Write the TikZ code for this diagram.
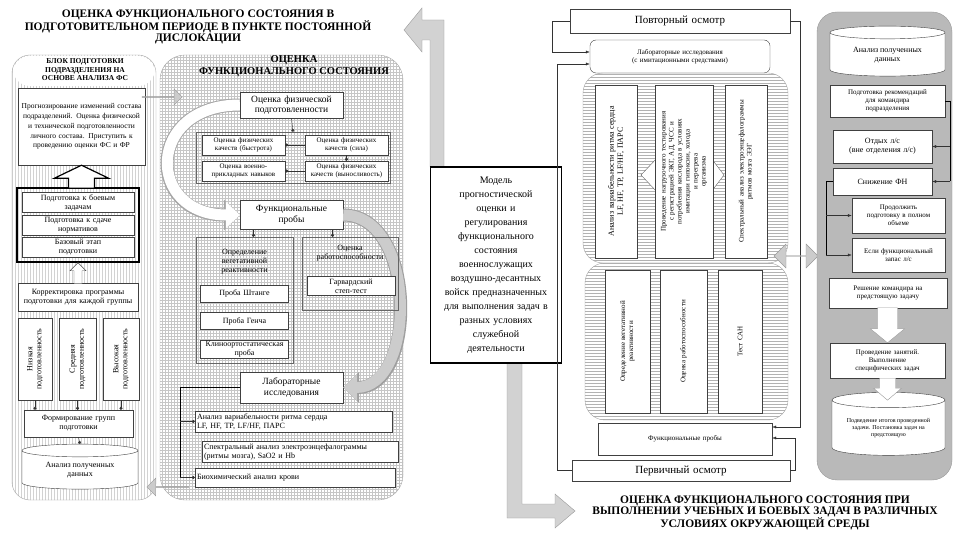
\documentclass[tikz,border=0pt]{standalone}
\usepackage{fontspec}
\setmainfont{Liberation Serif}
\usetikzlibrary{shapes.geometric,shapes.arrows,patterns,arrows.meta,positioning}

\newcommand\fh{\fontsize{11.5}{11.5}\selectfont\bfseries}
\newcommand\fk{\fontsize{10.5}{11.5}\selectfont\bfseries}
\newcommand\fa{\fontsize{9.5}{10.5}\selectfont}
\newcommand\fb{\fontsize{8}{9}\selectfont}
\newcommand\fc{\fontsize{7}{8}\selectfont}

\tikzset{
  bx/.style={draw=black!75, fill=white, align=center, inner sep=1pt, font=\fb},
  wh/.style 2 args={minimum width=#1pt, minimum height=#2pt, text width=#1pt-4pt},
  vt/.style 2 args={rotate=90, minimum width=#2pt, minimum height=#1pt, text width=#2pt-6pt},
  grp/.style={draw=black!60},
  can/.style={cylinder, shape border rotate=90, aspect=0.18, draw=black!75, fill=white, align=center, inner sep=1pt},
  arr/.style={draw=black!80, -{Latex[length=4pt,width=3pt]}},
  dot/.style={draw=black!80, -{Circle[length=3pt]}},
  gblk/.style={single arrow, draw=gray!80, fill=gray!40, single arrow head extend=4pt, inner sep=0pt},
  wpoly/.style={draw=gray!80, fill=white, line join=miter},
  band/.style={draw=gray!80, fill=gray!35},
}

\begin{document}
\begin{tikzpicture}[x=1pt,y=-1pt]
\useasboundingbox (0,0) rectangle (958,534);
\fill[white] (0,0) rectangle (958,534);

% titles
\node[font=\fh, align=center] (t1) at (198,27) {ОЦЕНКА ФУНКЦИОНАЛЬНОГО СОСТОЯНИЯ В\\ПОДГОТОВИТЕЛЬНОМ ПЕРИОДЕ В ПУНКТЕ ПОСТОЯННОЙ\\ДИСЛОКАЦИИ};
\node[font=\fh, align=center] (t2) at (765,513) {ОЦЕНКА ФУНКЦИОНАЛЬНОГО СОСТОЯНИЯ ПРИ\\ВЫПОЛНЕНИИ УЧЕБНЫХ И БОЕВЫХ ЗАДАЧ В РАЗЛИЧНЫХ\\УСЛОВИЯХ ОКРУЖАЮЩЕЙ СРЕДЫ};

% panels
\draw[draw=gray!70, pattern=vertical lines, pattern color=gray!35, rounded corners=18pt] (12,55) rectangle (156,500);
\fill[white, rounded corners=17pt] (13,56) -- (13,86) -- (155,86) -- (155,56) -- cycle;
\draw[draw=gray!70, pattern=grid, pattern color=gray!45, rounded corners=25pt] (160,55) rectangle (403,500);

% big band, behind the model box
\draw[band] (430,167) -- (430,40) -- (422,40) -- (422,52) -- (404,30) -- (422,8) -- (422,20) -- (444,20) -- (444,167) -- cycle;
\draw[band] (507,363) -- (507,518) -- (555,518) -- (555,528) -- (575,511) -- (555,494) -- (555,504) -- (522,504) -- (522,363) -- cycle;

% ---- left block
\node[font=\fontsize{7.5}{8.5}\selectfont\bfseries, align=center] (lh) at (85,70) {БЛОК ПОДГОТОВКИ\\ПОДРАЗДЕЛЕНИЯ НА\\ОСНОВЕ АНАЛИЗА ФС};
\node[bx, wh={127}{77}, font=\fontsize{7.5}{9.8}\selectfont] (l1) at (81.5,126.5) {Прогнозирование изменений состава подразделений. Оценка физической и технической подготовленности личного состава. Приступить к проведению оценки ФС и ФР};
\node[draw=black, line width=1.5pt, minimum width=122pt, minimum height=74pt] (lt) at (78,225) {};
\draw[wpoly, draw=black, very thick] (l1.south) -- ++(27,13) -- ++(-14,0) -- ++(0,10) -- ++(-26,0) -- ++(0,-10) -- ++(-14,0) -- cycle;
\node[bx, wh={112}{20}] (l2) at (78,202.5) {Подготовка к боевым\\задачам};
\node[bx, wh={112}{20}] (l3) at (78,225) {Подготовка к сдаче\\нормативов};
\node[bx, wh={112}{20}] (l4) at (78,247.5) {Базовый этап\\подготовки};
\node[bx, wh={120}{28}] (l5) at (78,297) {Корректировка программы подготовки для каждой группы};
\draw[wpoly, draw=black!70] (lt.south) -- ++(8,8) -- ++(-4,0) -- ++(0,13) -- ++(-8,0) -- ++(0,-13) -- ++(-4,0) -- cycle;
\node[bx, vt={34}{82}] (l6) at (35,359) {Низкая\\подготовленность};
\node[bx, vt={37}{82}] (l7) at (77.5,359) {Средняя\\подготовленность};
\node[bx, vt={36}{82}] (l8) at (121,359) {Высокая\\подготовленность};
\node[bx, wh={109}{27}] (l9) at (78.5,423.5) {Формирование групп\\подготовки};
\node[can, font=\fb, minimum width=116pt, minimum height=45pt] (l10) at (80,470.5) {Анализ полученных\\данных};
\draw[dot] (l6.west) -- (l6.west |- l9.north);
\draw[dot] (l7.west) -- (l7.west |- l9.north);
\draw[dot] (l8.west) -- (l8.west |- l9.north);
\draw[dot] (l9.south) -- (l10.north);

% ---- middle block
\node[font=\fk, align=center] (mh) at (294,66) {ОЦЕНКА\\ФУНКЦИОНАЛЬНОГО СОСТОЯНИЯ};
\node[gblk, minimum height=40pt, minimum width=16pt] (garr1) at (162,97) {};
\node[gblk, rotate=180, minimum height=42pt, minimum width=18pt] (garr2) at (168,487) {};

\node[bx, wh={103}{26}, font=\fa] (m1) at (291.5,105) {Оценка физической\\подготовленности};
\node[bx, wh={103}{29}, font=\fa] (m6) at (291.5,215) {Функциональные\\пробы};
\node[bx, wh={103}{31}, font=\fa] (m11) at (291.5,387.5) {Лабораторные\\исследования};

\draw[line width=11pt, white, -{Triangle[length=14pt,width=26pt]},
  preaction={draw=gray!70, line width=13pt, -{Triangle[length=16pt,width=30pt]}}]
  (m1.west) to[out=180,in=180,looseness=2.2] (m6.west);
\draw[line width=11pt, gray!40, -{Triangle[length=14pt,width=26pt]},
  preaction={draw=gray!75, line width=13pt, -{Triangle[length=16pt,width=30pt]}}]
  (m6.east) to[out=0,in=0,looseness=1.1] (m11.east);

\node[grp, minimum width=194pt, minimum height=51pt] (mg1) at (293,157.5) {};
\node[bx, wh={83}{20}, font=\fc] (m2) at (243.5,145) {Оценка физических\\качеств (быстрота)};
\node[bx, wh={83}{20}, font=\fc] (m3) at (346.5,145) {Оценка физических\\качеств (сила)};
\node[bx, wh={83}{20}, font=\fc] (m4) at (243.5,171) {Оценка военно-\\прикладных навыков};
\node[bx, wh={83}{20}, font=\fc] (m5) at (346.5,171) {Оценка физических\\качеств (выносливость)};
\draw[dot] (m1.south) -- (mg1.north);
\draw[dot] (m3.west) -- (m2.east);
\draw[dot] (m5.west) -- (m4.east);
\draw[dot] (m3.south) -- (m5.north);

\node[grp, minimum width=97pt, minimum height=126pt] (mg2) at (244.5,300) {};
\node[font=\fb, align=center] (mg2t) at (244.5,262) {Определение\\вегетативной\\реактивности};
\node[bx, wh={88}{17}] (m7) at (244.5,293.5) {Проба Штанге};
\node[bx, wh={88}{17}] (m8) at (244.5,321) {Проба Генча};
\node[bx, wh={88}{18}] (m9) at (244.5,349) {Клиноортостатическая\\проба};
\node[grp, minimum width=96pt, minimum height=73pt] (mg3) at (350,273.5) {};
\node[font=\fb, align=center] (mg3t) at (350,253) {Оценка\\работоспособности};
\node[bx, wh={88}{19}] (m10) at (351,286) {Гарвардский\\степ-тест};
\draw[dot] ([xshift=-38pt]m6.south) -- ([xshift=-38pt]m6.south |- mg2.north);
\draw[dot] ([xshift=41pt]m6.south) -- ([xshift=41pt]m6.south |- mg3.north);

\node[bx, wh={197}{21}, align=left, font=\fb] (m12) at (293.5,421.5) {Анализ вариабельности ритма сердца\\LF, HF, TP, LF/HF, ПАРС};
\node[bx, wh={196}{21}, align=left, font=\fb] (m13) at (300,452) {Спектральный анализ электроэнцефалограммы\\(ритмы мозга), SaO2 и Hb};
\node[bx, wh={200}{19}, align=left, font=\fb] (m14) at (295,477.5) {Биохимический анализ крови};
\coordinate (mlab) at (180,387.5);
\draw (m11.west) -- (mlab) -- (mlab |- m14.west);
\draw[dot] (mlab |- m12.west) -- (m12.west);
\draw[dot] (mlab |- m14.west) -- (m14.west);

% ---- model
\node[draw, very thick, fill=white, align=center, font=\fontsize{10}{14}\selectfont, minimum width=128pt, minimum height=196pt, text width=124pt] (cm) at (496,265) {Модель\\прогностической\\оценки и\\регулирования\\функционального\\состояния\\военнослужащих\\воздушно-десантных\\войск предназначенных\\для выполнения задач в\\разных условиях\\служебной\\деятельности};

% ---- right block
\node[bx, wh={220}{24}, font=\fontsize{11}{12}\selectfont] (rp1) at (680,21) {Повторный осмотр};
\node[bx, wh={180}{33}, rounded corners=6pt, font=\fc] (rp2) at (680,56.5) {Лабораторные исследования\\(с имитационными средствами)};
\draw[draw=gray!70, pattern=horizontal lines, pattern color=gray!60, rounded corners=20pt] (583,73) rectangle (788,263);
\draw[draw=gray!70, pattern=horizontal lines, pattern color=gray!60, rounded corners=20pt] (585,263) rectangle (788,420);
\node[bx, vt={42}{173}, font=\fb] (rv1) at (616,171.5) {Анализ вариабельности ритма сердца\\LF, HF, TP, LF/HF, ПАРС};
\node[bx, vt={42}{173}, font=\fc] (rv3) at (746,171.5) {Спектральный анализ электроэнцефалограммы\\ритмов мозга ЭЭГ};
\coordinate (rv2l) at (655,175);
\coordinate (rv2r) at (713,175);
\draw[wpoly, draw=black!60] (rv2l) ++(-14,0) -- ++(16,-17) -- ++(0,34) -- cycle;
\draw[wpoly, draw=black!60] (rv2r) ++(11,0) -- ++(-13,-17) -- ++(0,34) -- cycle;
\node[bx, vt={58}{173}, font=\fc] (rv2) at (684,171.5) {Проведение нагрузочного тестирования\\с регистрацией ЭКГ, АД, ЧСС и\\потребления кислорода в условиях\\имитации гипоксии, холода\\и перегрева\\организма};
\node[bx, vt={45}{143}, font=\fc] (rw1) at (627.5,341.5) {Определение вегетативной\\реактивности};
\node[bx, vt={47}{143}, font=\fc] (rw2) at (683.5,341.5) {Оценка работоспособности};
\node[bx, vt={44}{143}, font=\fc] (rw3) at (740,341.5) {Тест САН};
\node[bx, wh={174}{32}, font=\fc] (rp3) at (685,439) {Функциональные пробы};
\node[bx, wh={218}{21}, font=\fontsize{11}{12}\selectfont] (rp4) at (681,470.5) {Первичный осмотр};
\coordinate (rl1) at (552,52);
\coordinate (rl2) at (557,64);
\coordinate (rr1) at (800,427);
\coordinate (rr2) at (795,438);
\draw[arr] (rp1.west) -| (rl1) -- (rl1 -| rp2.west);
\draw[arr] (rp4.west) -| (rl2) -- (rl2 -| rp2.west);
\draw[arr] (rp1.east) -| (rr1) -- (rr1 -| rp3.east);
\draw[arr] (rp4.east) -| (rr2) -- (rr2 -| rp3.east);
\node[double arrow, draw=gray!80, fill=gray!40, minimum height=44pt, minimum width=24pt, double arrow head extend=5pt, inner sep=0pt] (dbl) at (796,256) {};

% ---- far right block
\draw[draw=gray!80, fill=gray!55, rounded corners=20pt] (817,12) rectangle (952,480);
\node[can, font=\fb, minimum width=115pt, minimum height=50pt] (f1) at (887.5,55) {Анализ полученных\\данных};
\node[bx, wh={115}{32}, font=\fc] (f2) at (887.5,101) {Подготовка рекомендаций\\для командира\\подразделения};
\node[bx, wh={99}{33}] (f3) at (882.5,146.5) {Отдых л/с\\(вне отделения л/с)};
\node[bx, wh={99}{27}] (f4) at (882.5,181.5) {Снижение ФН};
\node[bx, wh={93}{35}, font=\fc] (f5) at (898.5,215.5) {Продолжить\\подготовку в полном\\объеме};
\node[bx, wh={93}{34}, font=\fc] (f6) at (898.5,255) {Если функциональный\\запас л/с};
\node[bx, wh={118}{30}, font=\fc] (f7) at (888,293) {Решение командира на\\предстоящую задачу};
\node[bx, wh={115}{35}, font=\fc] (f8) at (887.5,360.5) {Проведение занятий.\\Выполнение\\специфических задач};
\draw[wpoly] (f8.north) -- ++(-17,-14) -- ++(7,0) -- ++(0,-21) -- ++(20,0) -- ++(0,21) -- ++(7,0) -- cycle;
\node[can, font=\fontsize{6}{7}\selectfont, minimum width=113pt, minimum height=63pt] (f9) at (888.5,428.5) {Подведение итогов проведенной\\задачи. Постановка задач на\\предстоящую};
\draw[wpoly] (f8.south) ++(0,22) -- ++(-14,-12) -- ++(6,0) -- ++(0,-10) -- ++(16,0) -- ++(0,10) -- ++(6,0) -- cycle;
\coordinate (fr) at (950,181.5);
\coordinate (fl) at (826,255);
\draw (f2.east) -| (fr);
\draw[arr] (fr |- f3.east) -- (f3.east);
\draw[arr] (fr) -- (f4.east);
\draw (f4.west) -| (fl);
\draw[arr] (fl |- f5.west) -- (f5.west);
\draw[arr] (fl) -- (f6.west);
\end{tikzpicture}
\end{document}
